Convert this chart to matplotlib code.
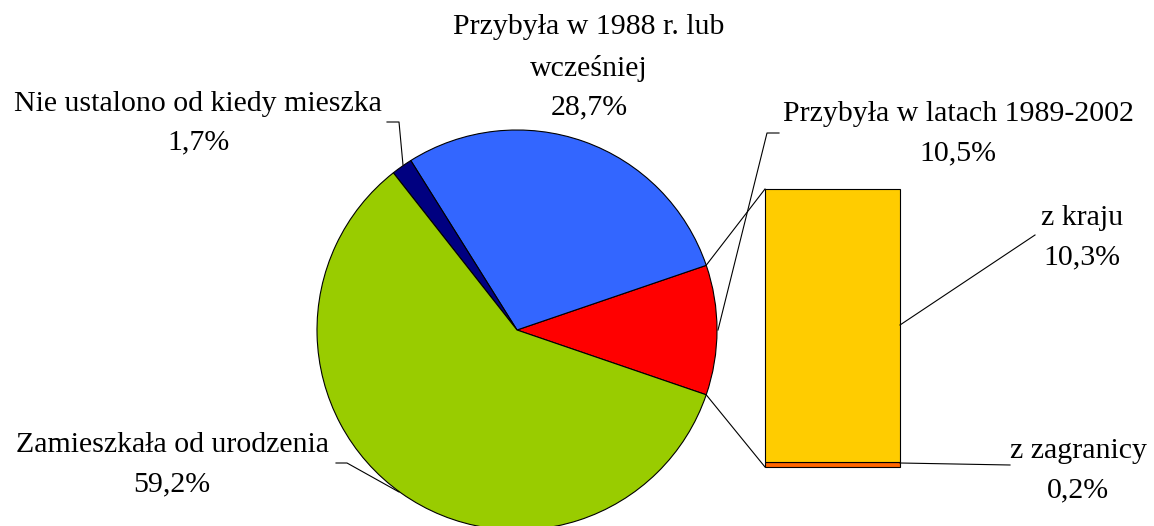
import numpy as np
import matplotlib
matplotlib.use("Agg")
import matplotlib.pyplot as plt

# dane
pie_labels = ["Przybyła w latach 1989-2002", "Przybyła w 1988 r. lub\nwcześniej",
              "Nie ustalono od kiedy mieszka", "Zamieszkała od urodzenia"]
pie_values = [10.5, 28.7, 1.7, 59.2]
pie_colors = ["#FF0000", "#3366FF", "#000080", "#99CC00"]

bar_labels = ["z zagranicy", "z kraju"]
bar_values = [0.2, 10.3]
bar_colors = ["#FF6600", "#FFCC00"]

def pct(v):
    return ("%.1f%%" % v).replace(".", ",")

W, H = 1154, 526
fig = plt.figure(figsize=(W / 100, H / 100), dpi=100)
ax = fig.add_axes([0, 0, 1, 1])

# wykres kołowy
cx, cy, r = 517, H - 330, 200
half = pie_values[0] / 100 * 360 / 2
ax.pie(pie_values, colors=pie_colors, startangle=-half, counterclock=True,
       center=(cx, cy), radius=r, frame=True,
       wedgeprops=dict(edgecolor="black", linewidth=0.8))
ax.set_xlim(0, W)
ax.set_ylim(0, H)
ax.set_aspect("equal")
ax.axis("off")

# słupek
bx0, bx1 = 765, 900
by0, by1 = H - 467, H - 189
scale = (by1 - by0) / sum(bar_values)
bottom = by0
for v, c in zip(bar_values, bar_colors):
    ax.bar(bx0, v * scale, width=bx1 - bx0, bottom=bottom, align="edge",
           color=c, edgecolor="black", linewidth=0.8)
    bottom += v * scale

# linie łączące
a = np.deg2rad(half)
ax.plot([cx + r * np.cos(a), bx0], [cy + r * np.sin(a), by1], color="black", lw=0.8)
ax.plot([cx + r * np.cos(-a), bx0], [cy + r * np.sin(-a), by0], color="black", lw=0.8)

fs = 21.5
tk = dict(ha="center", va="center", fontsize=fs, family="Liberation Serif")

def lab(x, y, s):
    ax.text(x, H - y, s, **tk)

def leader(pts):
    xs = [p[0] for p in pts]
    ys = [H - p[1] for p in pts]
    ax.plot(xs, ys, color="black", lw=0.8)

# etykiety
lab(958, 114, pie_labels[0])
lab(958, 153, pct(pie_values[0]))
leader([(779, 133), (767, 133), (718, 330)])

lab(589, 27, "Przybyła w 1988 r. lub")
lab(589, 69, "wcześniej")
lab(589, 107, pct(pie_values[1]))

lab(198, 104, pie_labels[2])
lab(198, 142, pct(pie_values[2]))
leader([(387, 122), (399, 122), (403, 165)])

lab(172, 445, pie_labels[3])
lab(172, 484, pct(pie_values[3]))
leader([(336, 463), (347, 463), (399, 492)])

lab(1082, 218, bar_labels[1])
lab(1082, 257, pct(bar_values[1]))
leader([(900, 325), (1035, 235)])

lab(1078, 451, bar_labels[0])
lab(1078, 490, pct(bar_values[0]))
leader([(900, 463), (1010, 465)])

fig.savefig("out.png", dpi=100)
